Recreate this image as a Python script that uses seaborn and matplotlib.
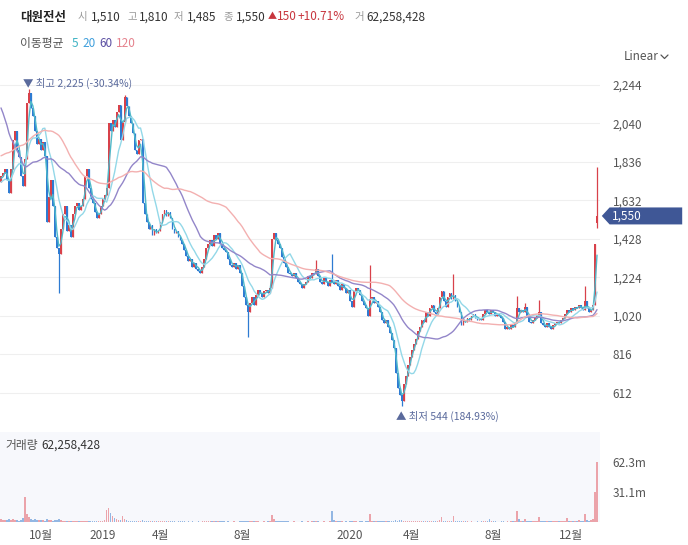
import numpy as np
import pandas as pd
import matplotlib
matplotlib.use("Agg")
import matplotlib.pyplot as plt
import matplotlib.transforms as mtransforms
from matplotlib.patches import Polygon
from matplotlib.lines import Line2D
import seaborn as sns

sns.set_style("white")
plt.rcParams["font.family"] = ["Noto Sans CJK KR", "DejaVu Sans"]
plt.rcParams["axes.unicode_minus"] = False

# ===================== 데이터 (2거래일 단위 종가, 그림에서 읽은 값) =====================
# 차트 시작 이전 구간 (이동평균 계산용)
pre_close = [1450, 1480, 1460, 1500, 1520, 1490, 1510, 1540, 1500, 1480,
             1520, 1550, 1530, 1500, 1560, 1540, 1520, 1550, 1580, 1560,
             1600, 1650, 1700, 1680, 1750, 1720, 1780, 1800, 1760, 1820,
             2300, 2600, 2800, 2700, 2900, 2650, 2500, 2700, 2550, 2450,
             2600, 2400, 2350, 2100, 1950, 1900, 1850, 1950, 1880, 1800,
             1750, 1700, 1720, 1780, 1700, 1680, 1740, 1720, 1760, 1730]

close = [1760, 1780, 1800, 1740, 1670, 1800, 1950, 2000, 1900, 1860,
         1760, 1710, 1850, 2150, 2200, 2120, 2080, 2000, 1930, 1960,
         1900, 1940, 1870, 1520, 1650, 1740, 1600, 1440, 1380, 1350,
         1480, 1560, 1600, 1470, 1500, 1440, 1560, 1600, 1620, 1580,
         1600, 1640, 1760, 1800, 1700, 1640, 1620, 1570, 1540, 1560,
         1600, 1640, 1660, 1700, 2040, 2000, 2060, 2020, 2100, 2140,
         1950, 2050, 2180, 2130, 2080, 2040, 1990, 1900, 1880, 1950,
         1960, 1620, 1560, 1520, 1480, 1500, 1450, 1480, 1460, 1470,
         1520, 1560, 1580, 1550, 1570, 1540, 1480, 1460, 1470, 1440,
         1420, 1400, 1370, 1340, 1310, 1320, 1280, 1300, 1270, 1260,
         1250, 1280, 1320, 1380, 1400, 1420, 1390, 1450, 1430, 1460,
         1400, 1380, 1370, 1360, 1320, 1290, 1280, 1300, 1270, 1290,
         1250, 1180, 1120, 1080, 1040, 1090, 1120, 1080, 1130, 1160,
         1140, 1120, 1150, 1160, 1140, 1170, 1430, 1460, 1420, 1400,
         1380, 1330, 1300, 1280, 1250, 1240, 1230, 1250, 1220, 1200,
         1190, 1170, 1190, 1200, 1230, 1220, 1250, 1240, 1270, 1230,
         1200, 1190, 1220, 1200, 1180, 1210, 1200, 1190, 1210, 1180,
         1160, 1190, 1170, 1140, 1160, 1100, 1070, 1150, 1170, 1160,
         1130, 1100, 1080, 1060, 1020, 1110, 1120, 1090, 1100, 1070,
         1040, 1000, 980, 1000, 960, 930, 890, 850, 720, 640,
         600, 570, 660, 700, 760, 800, 840, 870, 900, 940,
         960, 1000, 990, 1040, 1020, 1060, 1080, 1040, 1030, 1060,
         1120, 1150, 1100, 1070, 1120, 1140, 1110, 1130, 1100, 1070,
         1040, 970, 1000, 990, 1010, 1000, 1020, 1030, 1010, 1000,
         1010, 1000, 1030, 1050, 1040, 1030, 1050, 1040, 1020, 1030,
         1020, 1010, 990, 950, 960, 950, 970, 960, 980, 1060,
         1040, 1050, 1040, 1070, 1020, 990, 980, 1000, 1010, 1020,
         1040, 980, 970, 960, 980, 960, 950, 970, 980, 990,
         985, 1000, 1010, 1030, 1050, 1040, 1060, 1050, 1070, 1060,
         1080, 1060, 1050, 1100, 1060, 1040, 1050, 1077, 1400, 1550]
last_open = 1510

# 꼬리(고가/저가)가 두드러진 봉
hi_idx = [14, 62, 158, 166, 185, 227, 259, 263, 270, 293, 299]
hi_val = [2225, 2190, 1317, 1350, 1290, 1240, 1125, 1090, 1105, 1180, 1810]
lo_idx = [29, 124, 201, 299]
lo_val = [1142, 910, 544, 1485]

# 거래량 (백만 주)
volume = [3.5, 2.0, 2.5, 2.2, 3.0, 1.8, 2.8, 2.4, 1.6, 1.5, 2.0, 4.0, 26.0, 8.0, 5.0, 3.5, 2.5, 3.0, 2.0, 1.8,
          1.6, 2.2, 1.5, 3.0, 2.0, 1.6, 1.4, 2.2, 1.8, 3.5, 2.0, 1.5, 1.2, 1.0, 1.2, 0.9, 1.1, 1.0, 0.9, 1.0,
          0.8, 1.0, 1.5, 1.2, 0.9, 0.8, 0.8, 0.7, 0.9, 0.8, 1.0, 1.2, 1.8, 12.0, 15.0, 9.0, 6.0, 4.0, 3.0, 2.0,
          2.5, 6.0, 3.0, 2.0, 1.5, 1.2, 1.0, 1.4, 1.2, 1.0, 1.1, 2.0, 1.2, 0.9, 0.8, 0.9, 0.8, 0.7, 0.8, 0.7,
          0.8, 0.9, 0.7, 0.6, 0.7, 0.6, 0.8, 0.6, 0.5, 0.6, 0.7, 0.6, 0.6, 0.5, 0.6, 0.5, 0.6, 0.5, 0.5, 0.6,
          0.5, 0.6, 0.7, 0.9, 0.8, 1.0, 0.7, 1.2, 0.8, 0.9, 0.7, 0.6, 0.6, 0.5, 0.6, 0.5, 0.5, 0.6, 0.5, 0.5,
          0.6, 0.8, 0.9, 1.0, 1.5, 0.8, 0.7, 0.6, 0.7, 0.6, 0.5, 0.5, 0.6, 0.5, 0.6, 1.0, 7.0, 3.0, 1.5, 1.0,
          0.9, 0.8, 0.7, 0.6, 0.6, 0.5, 0.5, 0.6, 0.5, 0.5, 0.5, 0.6, 0.5, 0.5, 0.6, 0.5, 0.7, 0.6, 1.0, 0.6,
          0.5, 0.5, 0.6, 0.5, 0.5, 0.6, 11.0, 2.0, 1.0, 0.7, 0.6, 0.6, 0.5, 0.6, 0.5, 0.8, 1.0, 0.7, 0.6, 0.5,
          0.6, 0.6, 0.5, 0.6, 0.8, 8.5, 1.5, 0.8, 0.6, 0.6, 0.7, 0.8, 0.7, 0.6, 0.8, 0.9, 1.0, 1.2, 1.8, 1.5,
          1.6, 2.0, 1.4, 1.2, 1.0, 1.0, 0.9, 0.8, 0.9, 1.0, 0.8, 1.0, 0.8, 1.0, 0.8, 0.9, 1.0, 0.8, 0.7, 0.8,
          2.0, 5.0, 1.5, 1.0, 1.2, 1.4, 1.0, 6.0, 1.5, 1.0, 0.8, 1.0, 0.7, 0.6, 0.6, 0.5, 0.6, 0.5, 0.5, 0.6,
          0.5, 0.6, 0.8, 1.0, 0.8, 3.0, 1.0, 0.7, 0.6, 0.5, 0.5, 0.6, 0.6, 0.5, 0.6, 0.5, 0.6, 0.7, 1.0, 11.0,
          3.0, 1.5, 1.5, 3.5, 1.2, 0.9, 0.8, 0.8, 0.9, 1.0, 5.0, 1.5, 1.0, 0.8, 0.7, 0.7, 0.6, 0.6, 0.7, 0.6,
          0.6, 0.7, 0.8, 1.0, 4.5, 1.5, 1.2, 1.3, 1.5, 1.2, 1.6, 1.2, 1.4, 8.0, 2.5, 1.5, 1.8, 3.0, 31.0, 62.26]

ma_labels = ["5", "20", "60", "120"]
ma_windows = [3, 10, 30, 60]          # 2거래일 단위 -> 5/20/60/120일
ma_line_colors = ["#4fb9ca", "#93d8e8", "#9386c9", "#f3b0b0"]
ma_text_colors = ["#3fb3c4", "#3f9fdc", "#5a4ea2", "#e5828d"]

month_pos = [20, 51, 80, 121, 175, 206, 247, 286]
month_labels = ["10월", "2019", "4월", "8월", "2020", "4월", "8월", "12월"]
price_ticks = [612, 816, 1020, 1224, 1428, 1632, 1836, 2040, 2244]
vol_ticks = [31.1, 62.3]

UP, DOWN = "#d8414a", "#2e7bd2"

# ===================== 캔들 데이터 정리 =====================
n = len(close)
df = pd.DataFrame({"idx": np.arange(n), "close": close, "volume": volume}, dtype=float)
df["open"] = pd.Series(close, dtype=float).shift(1).fillna(pre_close[-1])
df.loc[n - 1, "open"] = last_open
df["high"] = df[["open", "close"]].max(axis=1)
df["low"] = df[["open", "close"]].min(axis=1)
for i, v in zip(hi_idx, hi_val):
    df.loc[i, "high"] = max(df.loc[i, "high"], v)
for i, v in zip(lo_idx, lo_val):
    df.loc[i, "low"] = min(df.loc[i, "low"], v)
df["up"] = df["close"] >= df["open"]

full = pd.Series(pre_close + close, dtype=float)
for w, lab in zip(ma_windows, ma_labels):
    df["ma" + lab] = full.rolling(w).mean().iloc[len(pre_close):].values

# ===================== 그림 =====================
W, H = 688, 545
fig = plt.figure(figsize=(W / 100, H / 100), dpi=100)
ax = fig.add_axes([0.0, 1 - 425 / H, 600 / W, (425 - 68) / H])
axv = fig.add_axes([0.0, 1 - 522 / H, 600 / W, (522 - 432) / H])

cols = np.where(df["up"], UP, DOWN)
ax.vlines(df["idx"], df["low"], df["high"], colors=cols, lw=0.9, zorder=2)
body = (df["close"] - df["open"]).abs().clip(lower=4)
ax.bar(df["idx"], body, bottom=df[["open", "close"]].min(axis=1), width=0.9,
       color=cols, linewidth=0, zorder=2)

for lab, c in zip(ma_labels, ma_line_colors):
    sns.lineplot(data=df, x="idx", y="ma" + lab, ax=ax, color=c, lw=1.0, zorder=3)

ax.set_xlim(-0.5, 300.5)
ax.set_ylim(442, 2334)
ax.yaxis.tick_right()
ax.set_yticks(price_ticks)
ax.set_yticklabels([f"{v:,}" for v in price_ticks])
ax.tick_params(axis="y", length=0, pad=9, labelsize=8.5, labelcolor="#555555")
ax.set_xticks([])
ax.set_xlabel("")
ax.set_ylabel("")
ax.grid(axis="y", color="#efefef", lw=0.8)
ax.set_axisbelow(True)
for s in ax.spines.values():
    s.set_visible(False)

# 최고 / 최저 표시
i_hi = df["high"].idxmax()
i_lo = df["low"].idxmin()
hi_txt = f"▼ 최고 {df['high'].max():,.0f} (-30.34%)"
lo_txt = f"▲ 최저 {df['low'].min():,.0f} (184.93%)"
ax.annotate(hi_txt, (i_hi, df["high"].max()), xytext=(-4, 4), textcoords="offset points",
            ha="left", va="center", fontsize=7.5, color="#5a6a9c")
ax.annotate(lo_txt, (i_lo, df["low"].min()), xytext=(-4, -8), textcoords="offset points",
            ha="left", va="center", fontsize=7.5, color="#5a6a9c")

# 현재가 라벨
last = df["close"].iloc[-1]
tr = mtransforms.blended_transform_factory(ax.transAxes, ax.transData)
box = Polygon([(1.003, last), (1.016, last + 45), (1.137, last + 45),
               (1.137, last - 45), (1.016, last - 45)], closed=True,
              transform=tr, facecolor="#3f5796", edgecolor="none", clip_on=False, zorder=5)
ax.add_patch(box)
ax.text(1.02, last, f"{last:,.0f}", transform=tr, color="white", fontsize=8.5,
        va="center", ha="left", zorder=6, clip_on=False)

# 거래량
vcols = np.where(df["up"], "#eba3aa", "#93b7e3")
axv.bar(df["idx"], df["volume"], width=0.8, color=vcols, linewidth=0)
axv.set_facecolor("#f7f8fc")
axv.set_xlim(-0.5, 300.5)
axv.set_ylim(0, 93.5)
axv.yaxis.tick_right()
axv.set_yticks(vol_ticks)
axv.set_yticklabels([f"{v}m" for v in vol_ticks])
axv.set_xticks(month_pos)
axv.set_xticklabels(month_labels)
axv.tick_params(axis="y", length=0, pad=9, labelsize=8.5, labelcolor="#555555")
axv.tick_params(axis="x", length=0, pad=5, labelsize=8.5, labelcolor="#555555")
for s in axv.spines.values():
    s.set_visible(False)
axv.text(5 / 600, 1 - 13 / 90, "거래량", transform=axv.transAxes, fontsize=8.5,
         color="#555555", va="center", ha="left")
axv.text(41 / 600, 1 - 13 / 90, "62,258,428", transform=axv.transAxes, fontsize=8.5,
         color="#333333", va="center", ha="left")

# 상단 헤더
def ftext(px, py, s, **kw):
    fig.text(px / W, 1 - py / H, s, va="center", ha="left", **kw)

ftext(20, 17, "대원전선", fontsize=9, color="#222222", fontweight="bold")
header = [(78, "시", "#999999"), (91, "1,510", "#333333"),
          (127, "고", "#999999"), (139, "1,810", "#333333"),
          (174, "저", "#999999"), (187, "1,485", "#333333"),
          (223, "종", "#999999"), (236, "1,550", "#333333"),
          (268, "▲", "#c8363e"), (277, "150", "#c8363e"), (298, "+10.71%", "#c8363e"),
          (354, "거", "#999999"), (366, "62,258,428", "#333333")]
for px, s, c in header:
    if s == "▲":
        fs = 6.5
    elif len(s) == 1:
        fs = 7.5
    else:
        fs = 8.5
    ftext(px, 17, s, fontsize=fs, color=c)

ftext(20, 43, "이동평균", fontsize=8.5, color="#555555")
for px, lab, c in zip([72, 82, 99, 116], ma_labels, ma_text_colors):
    ftext(px, 43, lab, fontsize=8.5, color=c)

ftext(624, 57, "Linear", fontsize=8.5, color="#555555")
fig.add_artist(Line2D([661 / W, 664.5 / W, 668 / W], [1 - 55 / H, 1 - 58.5 / H, 1 - 55 / H],
                      color="#555555", lw=0.9))

fig.savefig("out.png", dpi=100, facecolor="white")
